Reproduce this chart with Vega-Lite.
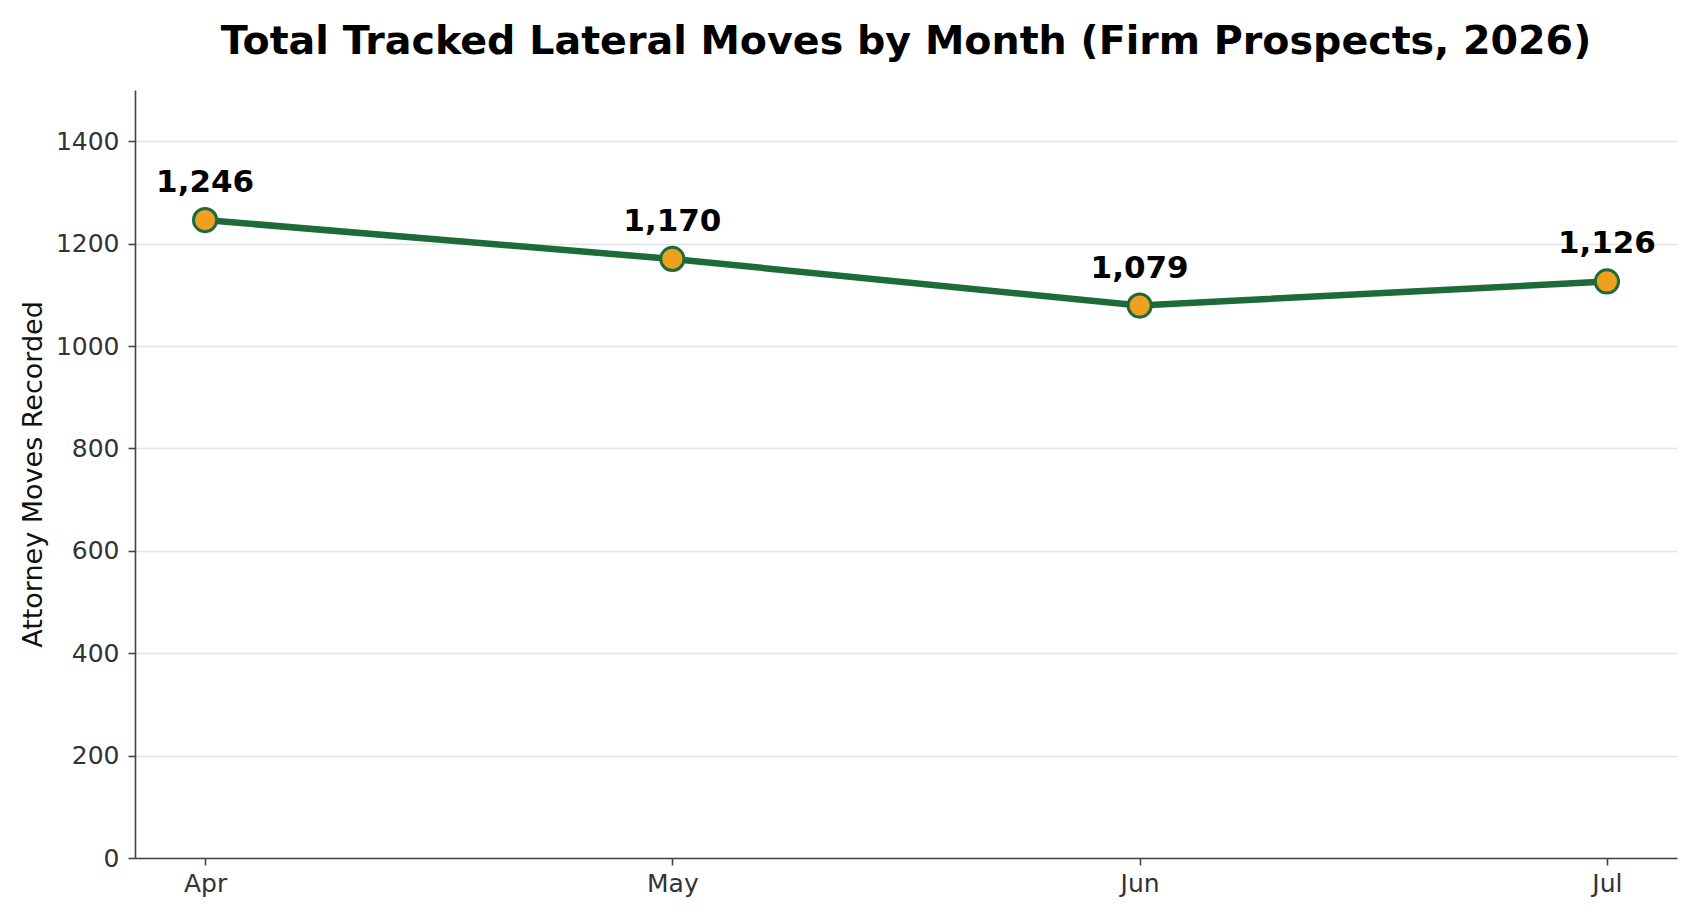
{
  "$schema": "https://vega.github.io/schema/vega-lite/v6.json",
  "autosize": "none",
  "width": 1542,
  "height": 768,
  "padding": {"left": 135, "top": 90, "right": 22, "bottom": 61},
  "background": "white",
  "title": {
    "text": "Total Tracked Lateral Moves by Month (Firm Prospects, 2026)",
    "font": "DejaVu Sans",
    "fontSize": 39.6,
    "fontWeight": "bold",
    "color": "#000000",
    "anchor": "middle",
    "baseline": "alphabetic",
    "offset": -4
  },
  "data": {
    "values": [
      {"month": "Apr", "moves": 1246},
      {"month": "May", "moves": 1170},
      {"month": "Jun", "moves": 1079},
      {"month": "Jul", "moves": 1126}
    ]
  },
  "encoding": {
    "x": {
      "field": "month",
      "type": "ordinal",
      "sort": null,
      "scale": {"type": "point", "padding": 0.15},
      "axis": {
        "title": null,
        "labelAngle": 0,
        "grid": false,
        "tickSize": 7,
        "labelPadding": 6
      }
    },
    "y": {
      "field": "moves",
      "type": "quantitative",
      "scale": {"domain": [0, 1500], "nice": false},
      "axis": {
        "title": "Attorney Moves Recorded",
        "values": [0, 200, 400, 600, 800, 1000, 1200, 1400],
        "format": "d",
        "grid": true,
        "tickSize": 7,
        "labelPadding": 9,
        "titlePadding": 8
      }
    }
  },
  "layer": [
    {
      "mark": {"type": "line", "color": "#1d6b3b", "strokeWidth": 6.5}
    },
    {
      "mark": {
        "type": "point",
        "shape": "circle",
        "filled": true,
        "size": 540,
        "fill": "#f0a01f",
        "stroke": "#1d6b3b",
        "strokeWidth": 3,
        "opacity": 1
      }
    },
    {
      "mark": {
        "type": "text",
        "font": "DejaVu Sans",
        "fontSize": 31,
        "fontWeight": "bold",
        "color": "#000000",
        "baseline": "alphabetic",
        "align": "center",
        "dy": -28
      },
      "encoding": {
        "text": {"field": "moves", "type": "quantitative", "format": ","}
      }
    }
  ],
  "config": {
    "view": {"stroke": null},
    "axis": {
      "labelFont": "DejaVu Sans",
      "labelFontSize": 25,
      "labelColor": "#333333",
      "titleFont": "DejaVu Sans",
      "titleFontSize": 27,
      "titleFontWeight": "normal",
      "titleColor": "#111111",
      "domainColor": "#444444",
      "domainWidth": 1.6,
      "tickColor": "#444444",
      "tickWidth": 1.6,
      "gridColor": "#e4e4e8",
      "gridWidth": 1.5
    }
  }
}
